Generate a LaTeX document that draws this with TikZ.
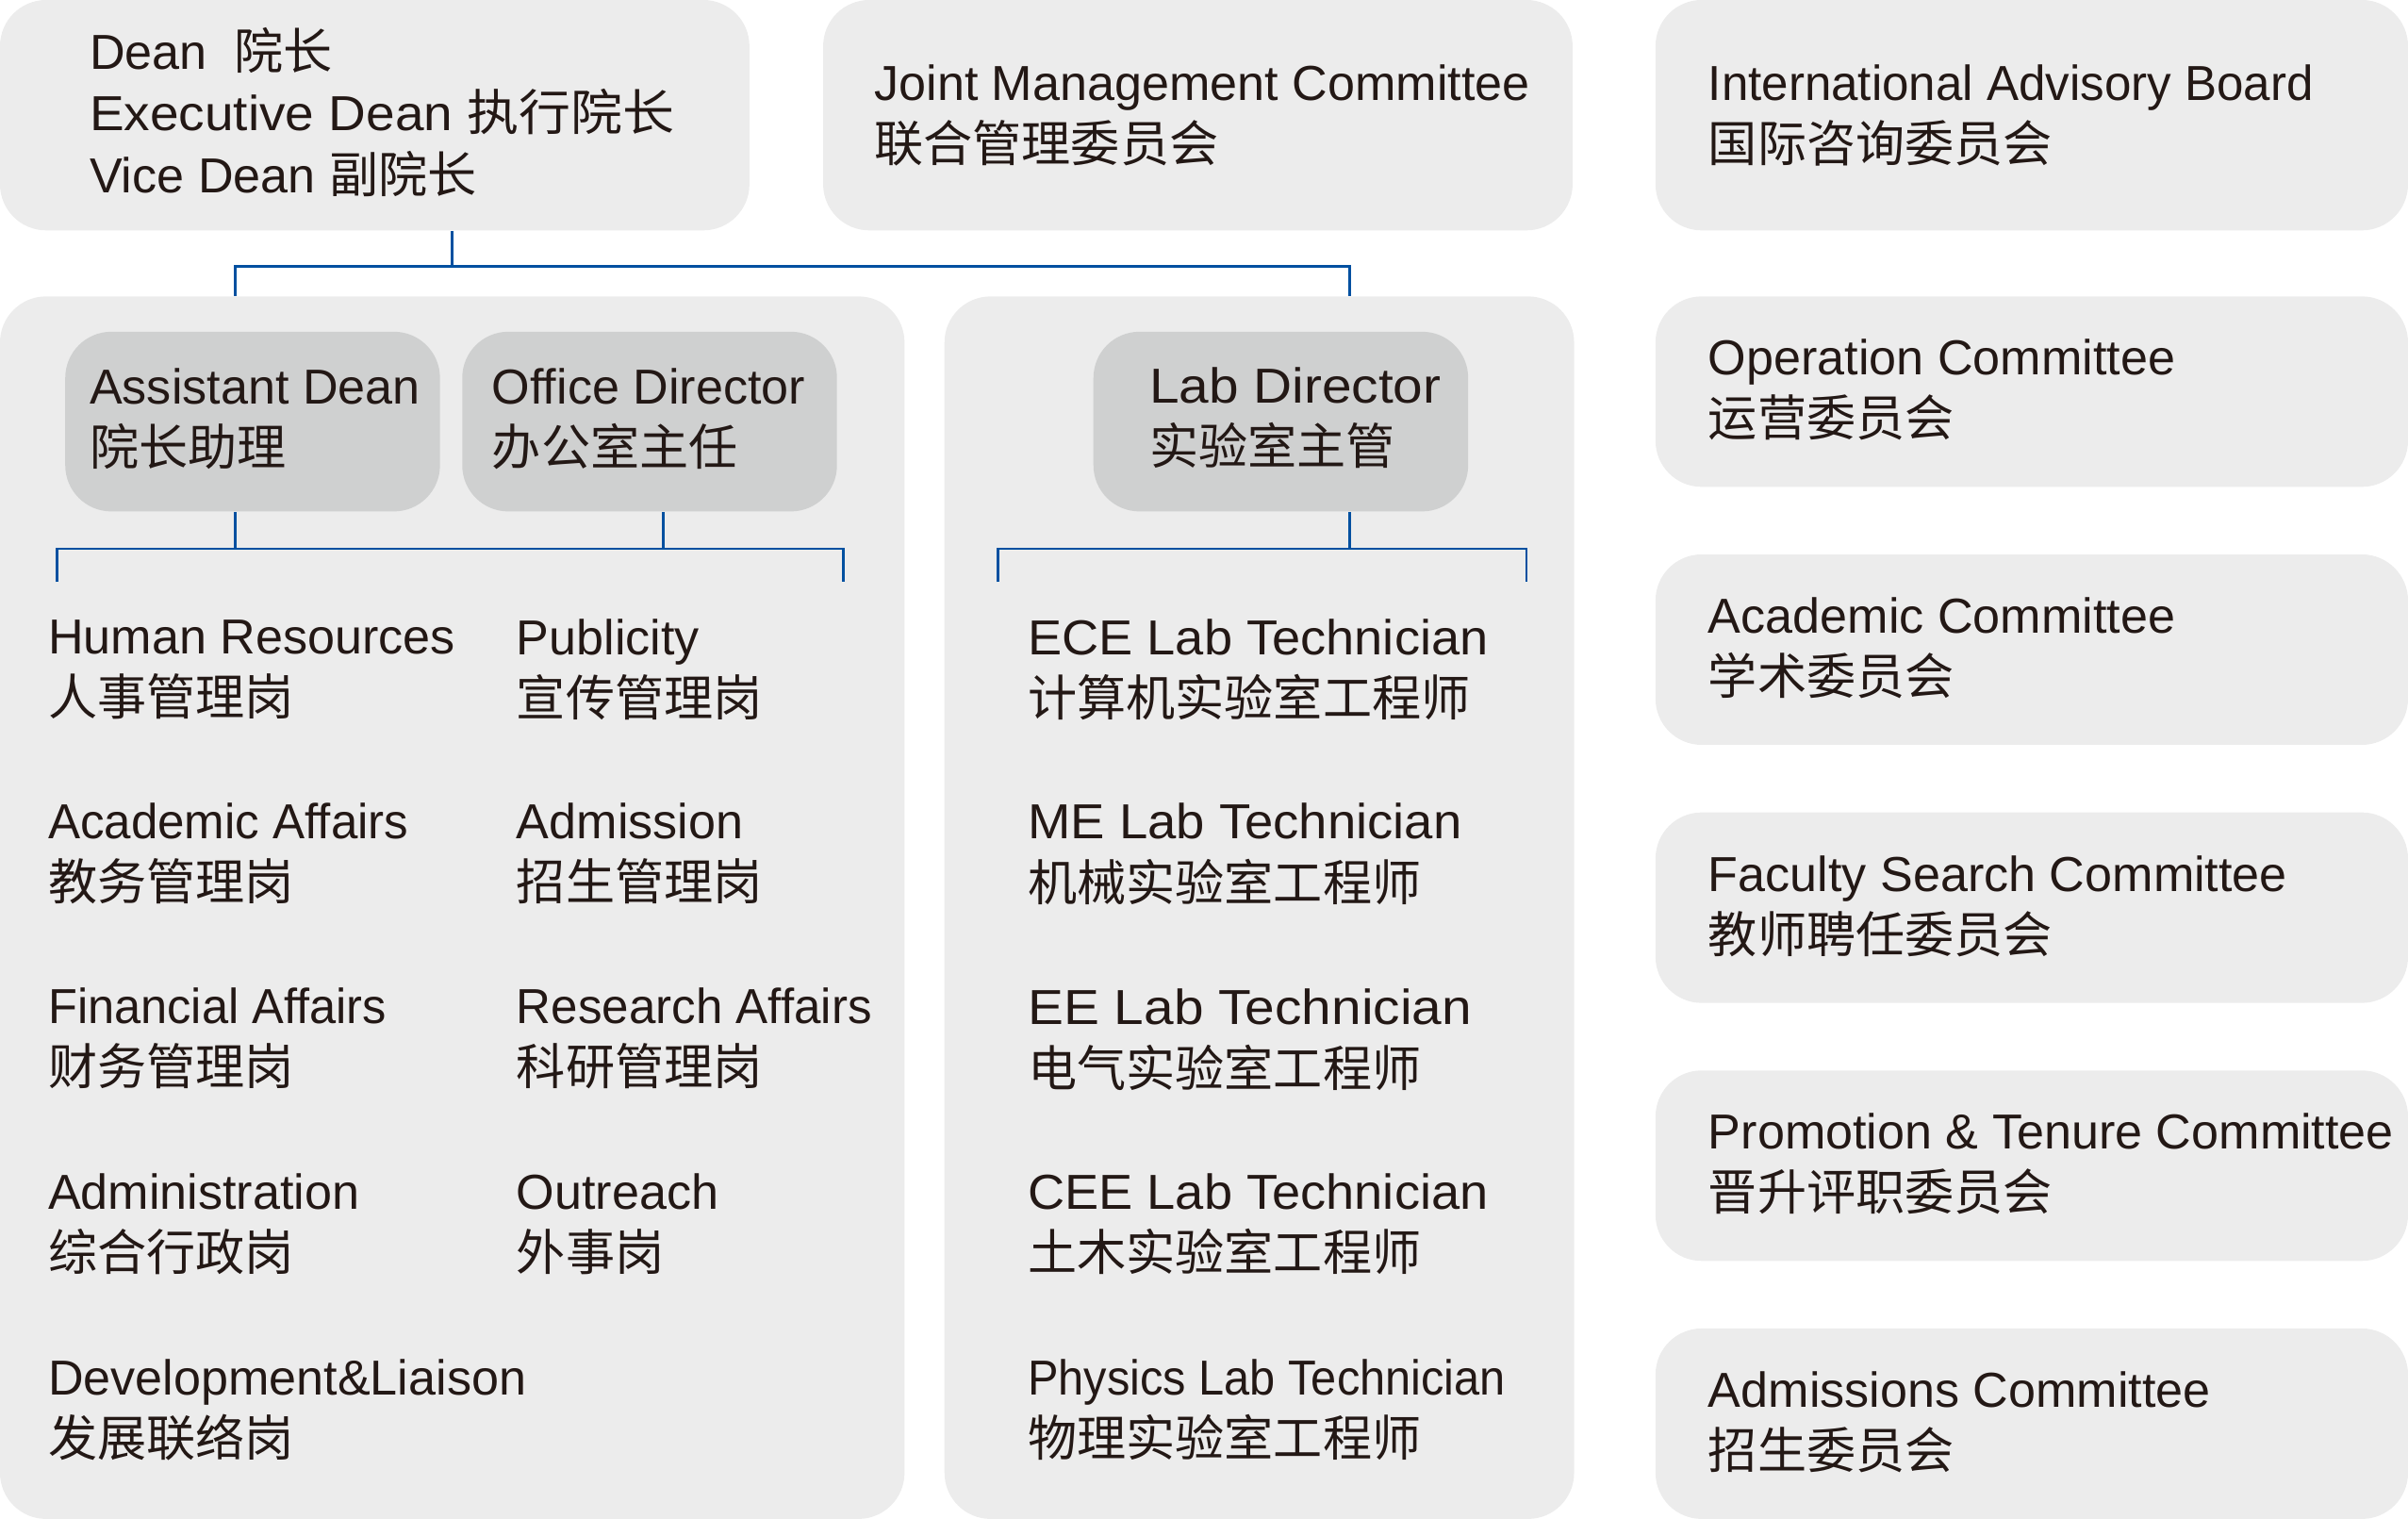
\documentclass[tikz,border=0pt]{standalone}
\usepackage{fontspec}
\setmainfont{Liberation Sans}
\newfontfamily\cjk{Noto Sans CJK SC}
\usepackage{tikz}
\newcommand{\zh}[1]{{\cjk #1}}
\newcommand{\wide}[2]{\scalebox{#1}[1]{#2}}

\definecolor{boxgray}{RGB}{236,236,236}
\definecolor{headgray}{RGB}{207,208,208}
\definecolor{linkblue}{RGB}{0,80,160}
\definecolor{ink}{RGB}{35,24,21}

\begin{document}
\begin{tikzpicture}[x=0.5pt,y=-0.5pt,
  panel/.style={fill=boxgray,rounded corners=15pt,inner sep=0pt,minimum width=#1},
  head/.style={fill=headgray,rounded corners=15pt,inner sep=0pt,minimum width=122pt,minimum height=58.5pt},
  txt/.style={anchor=west,align=left,inner sep=0pt,text=ink,font=\fontsize{16}{20}\selectfont},
  link/.style={draw=linkblue,line width=0.8pt}]
\useasboundingbox (0,0) rectangle (1568,989);

% Top row of boxes
\node[panel=244pt,minimum height=75pt] (dean) at (244,75) {};
\node[panel=244pt,minimum height=75pt] (jmc) at (780,75) {};
\node[panel=245pt,minimum height=75pt] (iab) at (1323,75) {};

% Two big panels below the dean
\node[panel=294.5pt,minimum height=398pt] (left) at (294.5,591) {};
\node[panel=205pt,minimum height=398pt] (mid) at (820,591) {};

% Heads inside the panels
\node[head] (asst) at (164.5,274.5) {};
\node[head] (office) at (423,274.5) {};
\node[head] (lab) at (834,274.5) {};

% Committees on the right
\node[panel=245pt,minimum height=62pt] (opc) at (1323,255) {};
\node[panel=245pt,minimum height=62pt] (acc) at (1323,423) {};
\node[panel=245pt,minimum height=62pt] (fsc) at (1323,591) {};
\node[panel=245pt,minimum height=62pt] (ptc) at (1323,759) {};
\node[panel=245pt,minimum height=62pt] (adc) at (1323,927) {};

% Texts
\node[txt] (deant) at (58,73) {Dean\ \ \zh{院长}\\\wide{1.055}{Executive Dean \zh{执行院长}}\\Vice Dean \zh{副院长}};
\node[txt] (jmct) at (569,75) {Joint Management Committee\\\zh{联合管理委员会}};
\node[txt] (iabt) at (1112,75) {\wide{0.98}{International Advisory Board}\\\zh{国际咨询委员会}};
\node[txt] (opct) at (1112,254) {Operation Committee\\\zh{运营委员会}};
\node[txt] (acct) at (1112,422) {Academic Committee\\\zh{学术委员会}};
\node[txt] (fsct) at (1112,590) {Faculty Search Committee\\\zh{教师聘任委员会}};
\node[txt] (ptct) at (1112,758) {Promotion \& Tenure Committee\\\zh{晋升评职委员会}};
\node[txt] (adct) at (1112,926) {Admissions Committee\\\zh{招生委员会}};

\node[txt] (asstt) at (58,273) {Assistant Dean\\\zh{院长助理}};
\node[txt] (officet) at (320,273) {Office Director\\\zh{办公室主任}};
\node[txt] (labt) at (748,272) {\wide{1.09}{Lab Director}\\\zh{实验室主管}};

\node[txt] (hr) at (31,436) {Human Resources\\\zh{人事管理岗}};
\node[txt] (pub) at (336,436) {Publicity\\\zh{宣传管理岗}};
\node[txt] (aca) at (31,556) {\wide{0.98}{Academic Affairs}\\\zh{教务管理岗}};
\node[txt] (adm) at (336,556) {Admission\\\zh{招生管理岗}};
\node[txt] (fin) at (31,676) {\wide{0.97}{Financial Affairs}\\\zh{财务管理岗}};
\node[txt] (res) at (336,676) {\wide{0.98}{Research Affairs}\\\zh{科研管理岗}};
\node[txt] (admin) at (31,797) {Administration\\\zh{综合行政岗}};
\node[txt] (out) at (336,797) {Outreach\\\zh{外事岗}};
\node[txt] (dev) at (31,918) {Development\&Liaison\\\zh{发展联络岗}};

\node[txt] (ece) at (669,436) {\wide{1.04}{ECE Lab Technician}\\\zh{计算机实验室工程师}};
\node[txt] (me) at (669,556) {\wide{1.045}{ME Lab Technician}\\\zh{机械实验室工程师}};
\node[txt] (ee) at (669,677) {\wide{1.09}{EE Lab Technician}\\\zh{电气实验室工程师}};
\node[txt] (cee) at (669,797) {\wide{1.04}{CEE Lab Technician}\\\zh{土木实验室工程师}};
\node[txt] (phy) at (669,918) {\wide{0.935}{Physics Lab Technician}\\\zh{物理实验室工程师}};

% Connectors
\coordinate (xa) at (153,0);
\coordinate (xo) at (432,0);
\coordinate (xl) at (879,0);
\draw[link] (dean.south -| left.north) -- ++(0,23) coordinate (hub);
\draw[link] (left.north -| xa) |- (hub) -| (mid.north -| xl);

\draw[link] (asst.south -| xa) -- ++(0,24) coordinate (barL);
\draw[link] (office.south -| xo) -- (barL -| xo);
\coordinate (hrtop) at (37,379);
\coordinate (pubtop) at (549,379);
\draw[link] (hrtop) |- (barL) -| (pubtop);

\draw[link] (lab.south -| xl) -- ++(0,24) coordinate (barM);
\coordinate (ecetop) at (650,379);
\coordinate (phytop) at (994,379);
\draw[link] (ecetop) |- (barM) -| (phytop);

\end{tikzpicture}
\end{document}
